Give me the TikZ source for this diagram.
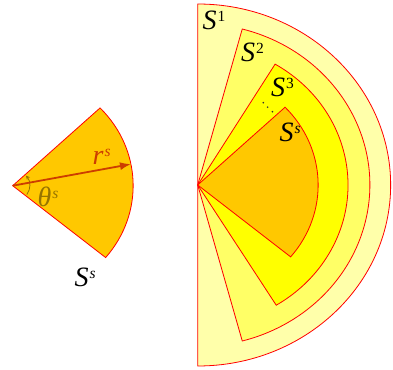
\documentclass[tikz,border=0pt]{standalone}
\usepackage{fontspec}
\setmainfont{Liberation Serif}
\usetikzlibrary{arrows.meta}
\definecolor{cone}{HTML}{FFFFAA}
\definecolor{ctwo}{HTML}{FFFF66}
\definecolor{cthree}{HTML}{FFFF00}
\definecolor{cs}{HTML}{FFC800}
\definecolor{rcol}{HTML}{CC3D00}
\definecolor{thcol}{HTML}{967300}
\newcommand{\supl}[2]{\textit{#1}\kern1pt\raisebox{8pt}{\fontsize{15.5}{15.5}\selectfont #2}}
\begin{document}
\begin{tikzpicture}[x=1pt,y=1pt,
  sector/.style={draw=red, line width=0.8pt, line join=miter},
  lab/.style={anchor=base west, inner sep=0pt, font=\fontsize{28}{32}\selectfont},
  dotmark/.style={fill=black!80, draw=none}]
\useasboundingbox (0,0) rectangle (393,369);
% right nested sectors
\begin{scope}[shift={(197.7,184)}, xscale=1.066]
  \coordinate (apexR) at (0,0);
  \draw[sector, fill=cone] (apexR) -- (90:181) arc[start angle=90, end angle=-90, radius=181] -- cycle;
  \draw[sector, fill=ctwo] (apexR) -- (75:161.5) arc[start angle=75, end angle=-75, radius=161.5] -- cycle;
  \draw[sector, fill=cthree] (apexR) -- (59:141) arc[start angle=59, end angle=-58.5, radius=141] -- cycle;
  \draw[sector, fill=cs] (apexR) -- (43.5:113) arc[start angle=43.5, end angle=-39.5, radius=113] -- cycle;
\end{scope}
% left sector
\begin{scope}[shift={(12.7,183.3)}, xscale=1.066]
  \coordinate (apexL) at (0,0);
  \coordinate (rtip) at (11:113);
  \draw[sector, fill=cs] (apexL) -- (43.5:113) arc[start angle=43.5, end angle=-39.5, radius=113] -- cycle;
  \draw[thcol, line width=0.8pt, {Stealth[length=4pt,width=4pt]}-] (39:16) arc[start angle=39, end angle=-34, radius=16];
  \draw[rcol, line width=1.8pt, -{Latex[length=11pt,width=8pt]}] (apexL) -- (rtip);
\end{scope}
% labels
\node[lab] (s1) at (202.5,339) {\supl{S}{1}};
\node[lab] (s2) at (241,307) {\supl{S}{2}};
\node[lab] (s3) at (271,272) {\supl{S}{3}};
\node[lab] (ssr) at (279.5,227) {\supl{S}{\textit{s}}};
\node[lab] (ssl) at (74.5,82.3) {\supl{S}{\textit{s}}};
\node[lab, text=thcol] (th) at (37.5,162) {\supl{θ}{\textit{s}}};
\node[lab, text=rcol] (rs) at (92.5,204) {\supl{r}{\textit{s}}};
% dots
\fill[dotmark] (263.3,266.3) circle (0.9);
\fill[dotmark] (267.6,261.8) circle (0.9);
\fill[dotmark] (272.4,257.3) circle (0.9);
\end{tikzpicture}
\end{document}
